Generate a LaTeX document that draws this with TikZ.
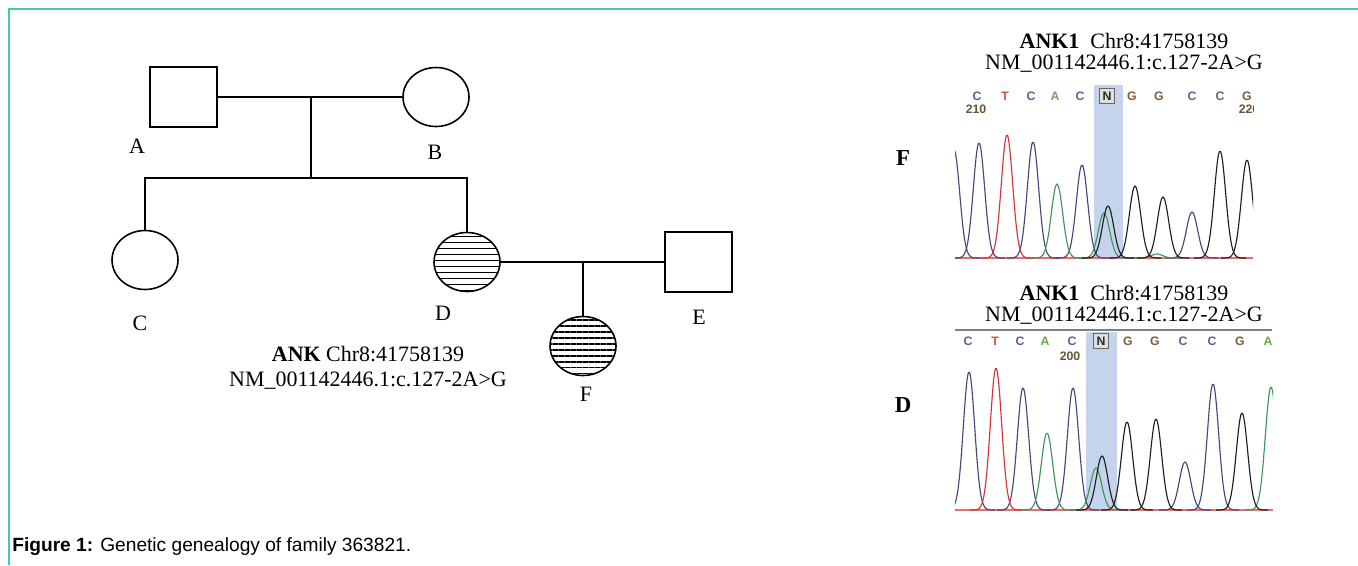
\documentclass[tikz,border=0pt]{standalone}
\usepackage{fontspec}
\setmainfont{Liberation Serif}
\setsansfont{Liberation Sans}
\usetikzlibrary{shapes.geometric,patterns.meta}

\definecolor{frameteal}{RGB}{62,201,181}
\definecolor{hilite}{RGB}{197,212,236}
\definecolor{traceC}{RGB}{70,70,125}
\definecolor{traceT}{RGB}{215,50,50}
\definecolor{traceA}{RGB}{60,150,90}
\definecolor{traceG}{RGB}{30,30,30}
\definecolor{baseC}{RGB}{95,95,145}
\definecolor{baseT}{RGB}{205,85,70}
\definecolor{baseA}{RGB}{100,170,80}
\definecolor{baseG}{RGB}{125,95,60}
\definecolor{baseN}{RGB}{40,40,40}
\definecolor{posnum}{RGB}{100,85,55}

\begin{document}
\begin{tikzpicture}[x=0.02cm,y=-0.02cm,
    conn/.style={line width=1.6pt},
    male/.style={draw,line width=0.9pt,rectangle,inner sep=0pt,minimum width=1.34cm,minimum height=1.2cm},
    female/.style={draw,line width=0.9pt,ellipse,inner sep=0pt,minimum width=1.32cm,minimum height=1.18cm},
    affected/.style={pattern={Lines[angle=0,distance=3.4pt,line width=0.7pt]}},
    lbl/.style={font=\fontsize{12.5}{14}\selectfont,inner sep=0pt},
    panel/.style={font=\bfseries\fontsize{13}{14}\selectfont,inner sep=0pt},
    title/.style={align=center,inner sep=0pt,font=\fontsize{12.5}{12}\selectfont},
    basech/.style={font=\sffamily\bfseries\fontsize{7}{8}\selectfont,inner sep=0pt},
    nbox/.style={draw=gray!80!black,fill=gray!25,line width=0.6pt,minimum size=0.3cm},
    trace/.style={line width=0.65pt},
    caption/.style={font=\sffamily\fontsize{10.9}{12}\selectfont,inner sep=0pt}]

    \useasboundingbox (0,0) rectangle (1358,565);

    % frame
    \draw[frameteal,line width=1pt] (9,565) -- (9,9) -- (1358,9);

    % pedigree
    \node[male] (A) at (183.5,97) {};
    \node[female] (B) at (436,97) {};
    \node[female] (C) at (145,260) {};
    \node[female,affected] (D) at (467,262) {};
    \node[male] (E) at (698.5,262) {};
    \node[female,affected] (F) at (583,346) {};

    \coordinate (ab) at (311,97);
    \coordinate (sib) at (311,178);
    \coordinate (de) at (583,262);

    \draw[conn] (A.east) -- (B.west);
    \draw[conn] (ab) -- (sib);
    \draw[conn] (C.north) |- (sib) -| (D.north);
    \draw[conn] (D.east) -- (E.west);
    \draw[conn] (de) -- (F.north);

    \node[lbl] (labA) at (137,146) {A};
    \node[lbl] (labB) at (435,152) {B};
    \node[lbl] (labC) at (140,323) {C};
    \node[lbl] (labD) at (443,313) {D};
    \node[lbl] (labE) at (699,317) {E};
    \node[lbl] (labF) at (586,394) {F};

    \node[title,font=\fontsize{12.5}{14.2}\selectfont] (mut) at (368,367.5)
        {\textbf{ANK} Chr8:41758139\\NM\_001142446.1:c.127-2A>G};

    % chromatogram of F
    \node[panel] (pF) at (903,158) {F};
    \node[title] (tF) at (1124,52.5) {\textbf{ANK1}\enspace Chr8:41758139\\NM\_001142446.1:c.127-2A>G};
    \begin{scope}
        \clip (955,80) rectangle (1253,262);
        \def\base{258}
        \fill[hilite] (1094,85) rectangle (1123,\base);
        \foreach \b/\bx in {C/951, C/977, T/1005, C/1031, A/1055, C/1080, G/1132, G/1159, C/1192, C/1220, G/1247}
            \node[basech,text=base\b] (fb\bx) at (\bx,96) {\b};
        \node[basech,nbox,text=baseN] (fN) at (1107,96) {N};
        \node[basech,text=posnum] (f210) at (976,109) {210};
        \node[basech,text=posnum] (f220) at (1249,109) {220};
        \draw[traceT!70,line width=0.8pt] (955,\base) -- (1253,\base);
        \foreach \c/\h/\col [evaluate=\c as \lo using \c-26, evaluate=\c as \hi using \c+26] in
            {954/108/traceC, 979/115/traceC, 1033/116/traceC, 1082/93/traceC, 1192/46/traceC,
             1007/123/traceT,
             1057/74/traceA, 1104/45/traceA, 1157/4/traceA,
             1108/52/traceG, 1135/72/traceG, 1163/61/traceG, 1220/107/traceG, 1247/98/traceG}
            \draw[trace,\col] plot[domain=\lo:\hi,samples=50,smooth] (\x,{\base-\h*exp(-((\x-\c)/8)^2)});
    \end{scope}

    % chromatogram of D
    \node[panel] (pD) at (903,405) {D};
    \node[title] (tD) at (1124,305) {\textbf{ANK1}\enspace Chr8:41758139\\NM\_001142446.1:c.127-2A>G};
    \draw[gray,line width=0.8pt] (955,330) -- (1272,330);
    \begin{scope}
        \clip (955,332) rectangle (1273,514);
        \def\base{510}
        \fill[hilite] (1086,332) rectangle (1117,\base);
        \foreach \b/\bx in {C/968, T/995, C/1020, A/1045, C/1072, G/1128, G/1155, C/1183, C/1212, G/1240, A/1268}
            \node[basech,text=base\b] (db\bx) at (\bx,341) {\b};
        \node[basech,nbox,text=baseN] (dN) at (1101,341) {N};
        \node[basech,text=posnum] (d200) at (1070,356) {200};
        \draw[traceT!70,line width=0.8pt] (955,\base) -- (1273,\base);
        \foreach \c/\h/\col [evaluate=\c as \lo using \c-26, evaluate=\c as \hi using \c+26] in
            {969/138/traceC, 1023/122/traceC, 1073/122/traceC, 1185/48/traceC, 1213/126/traceC,
             996/142/traceT,
             1047/77/traceA, 1096/42/traceA, 1271/123/traceA,
             1102/54/traceG, 1127/88/traceG, 1156/91/traceG, 1242/97/traceG}
            \draw[trace,\col] plot[domain=\lo:\hi,samples=50,smooth] (\x,{\base-\h*exp(-((\x-\c)/8)^2)});
    \end{scope}

    % caption
    \node[caption,anchor=base west] (cap) at (12,551) {\textbf{Figure 1:} Genetic genealogy of family 363821.};

\end{tikzpicture}
\end{document}
